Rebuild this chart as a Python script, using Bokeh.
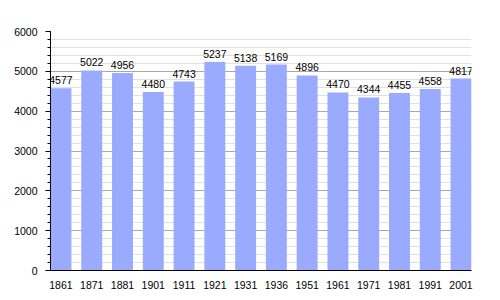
from bokeh.plotting import figure
from bokeh.models import ColumnDataSource, SingleIntervalTicker, FixedTicker, Range1d
from bokeh.core.properties import value
from bokeh.embed import file_html
from bokeh.resources import INLINE

years = ["1861", "1871", "1881", "1901", "1911", "1921", "1931", "1936",
         "1951", "1961", "1971", "1981", "1991", "2001"]
population = [4577, 5022, 4956, 4480, 4743, 5237, 5138, 5169,
              4896, 4470, 4344, 4455, 4558, 4817]

xs = list(range(len(years)))
src = ColumnDataSource(dict(x=xs, top=population, label=[str(v) for v in population]))

W = 0.68
p = figure(width=500, height=300, output_backend="svg", toolbar_location=None,
           x_range=Range1d(-W / 2, len(years) - 1 + W / 2), y_range=Range1d(0, 6000),
           min_border_left=50, min_border_right=29, min_border_top=31, min_border_bottom=30)
p.outline_line_color = None
p.background_fill_color = "white"

p.vbar(x="x", top="top", width=W, source=src, fill_color="#99aaff", line_color=None)
p.text(x="x", y="top", text="label", source=src, text_align="center",
       text_baseline="bottom", y_offset=-4, text_font=value("Liberation Sans"),
       text_font_size="10.5px", text_color="black")

p.yaxis.ticker = SingleIntervalTicker(interval=1000, num_minor_ticks=5)
p.ygrid.ticker = SingleIntervalTicker(interval=1000, num_minor_ticks=5)
p.ygrid.grid_line_color = "#a8a8a8"
p.ygrid.minor_grid_line_color = "#e0e0e0"
p.xgrid.grid_line_color = None

p.yaxis.axis_line_color = "black"
p.yaxis.major_tick_line_color = "black"
p.yaxis.minor_tick_line_color = "black"
p.yaxis.major_tick_out = 5
p.yaxis.major_tick_in = 0
p.yaxis.minor_tick_out = 3
p.yaxis.minor_tick_in = 0
p.yaxis.major_label_text_font = "Liberation Sans"
p.yaxis.major_label_text_font_size = "10.5px"
p.yaxis.major_label_text_color = "black"
p.yaxis.major_label_standoff = 8

p.xaxis.ticker = FixedTicker(ticks=xs)
p.xaxis.major_label_overrides = {i: y for i, y in enumerate(years)}
p.xaxis.axis_line_color = "black"
p.xaxis.major_tick_line_color = None
p.xaxis.minor_tick_line_color = None
p.xaxis.major_label_text_font = "Liberation Sans"
p.xaxis.major_label_text_font_size = "10.5px"
p.xaxis.major_label_text_color = "black"
p.xaxis.major_label_standoff = 4

open("out.html", "w").write(file_html(p, INLINE))
